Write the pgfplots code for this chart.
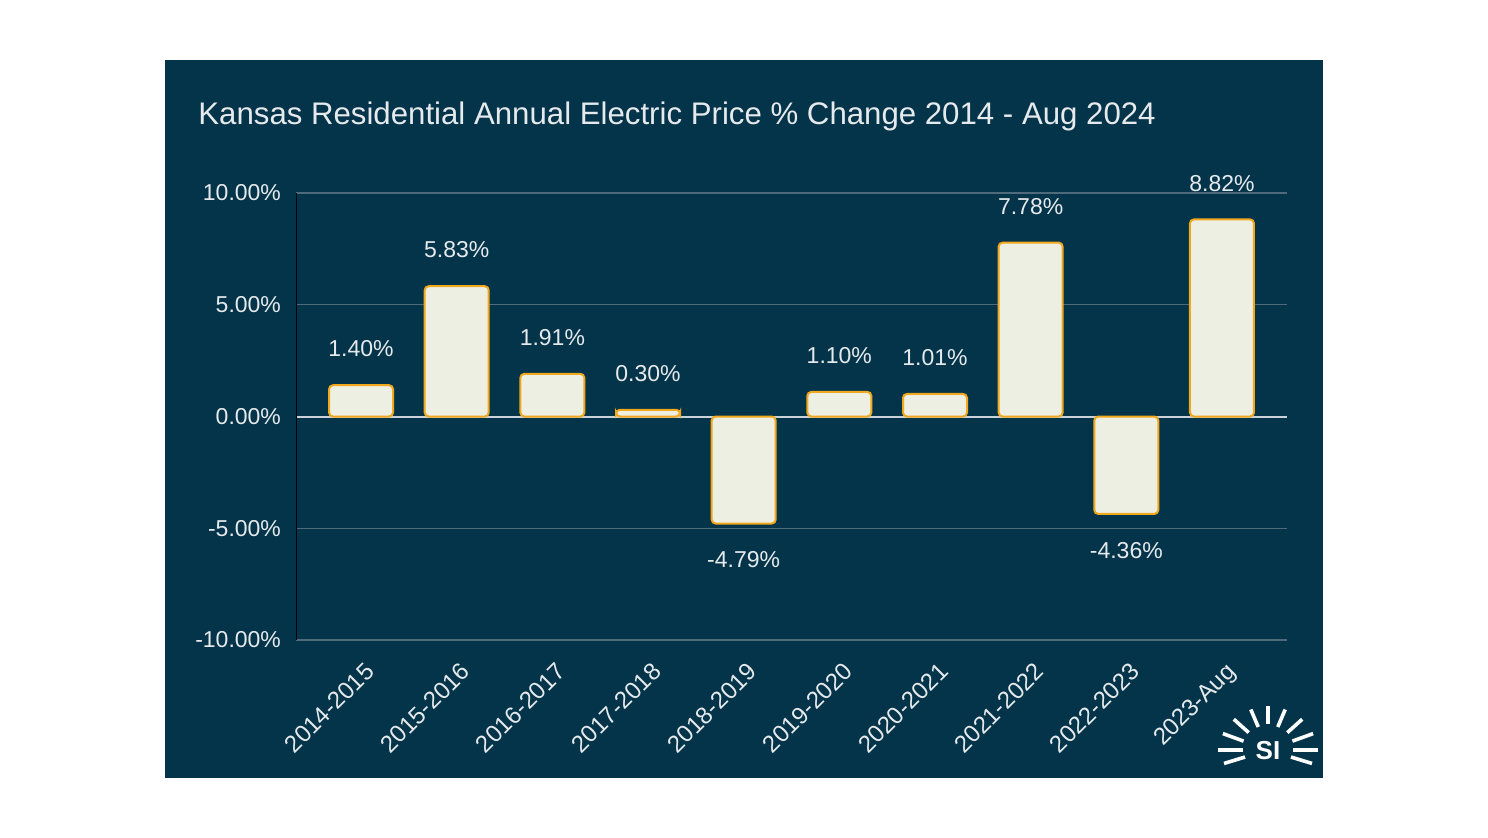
\documentclass[border=0pt]{standalone}
\usepackage{pgfplots}
\pgfplotsset{compat=1.18}
\usepackage{fontspec}
\setmainfont{Liberation Sans}
\definecolor{bg}{HTML}{04344A}
\definecolor{barfill}{HTML}{EEEFE3}
\definecolor{barline}{HTML}{F2A81D}
\definecolor{txt}{HTML}{E6EAEC}
\definecolor{gridc}{HTML}{4F6B7B}
\definecolor{zeroc}{HTML}{C8D2D8}
\begin{document}
\begin{tikzpicture}
\begin{scope}[x=0.5pt,y=-0.5pt,yshift=418.5pt]
\fill[white] (0,0) rectangle (1488,837);
\fill[bg] (165,60) rectangle (1323,778);
\node[anchor=base west, text=txt, font=\fontsize{15.6}{19}\selectfont, inner sep=0] at (198,125) {Kansas Residential Annual Electric Price \% Change 2014 - Aug 2024};
% logo
\foreach \a/\ra/\rb in {-17/24/46, 0/25/50, 20/26/48, 42/26/46, 67/25/44, 90/26/44, 113/25/44, 138/26/46, 160/26/48, 180/25/50, 197/24/46}
  \draw[white, line width=1.8pt] ([shift={(-\a:\ra)}]1268,750) -- ([shift={(-\a:\rb)}]1268,750);
\node[text=white, font=\fontsize{13}{15}\selectfont\bfseries, inner sep=0] at (1268,751) {SI};
\end{scope}
\begin{axis}[
  at={(148pt,98.5pt)}, anchor=south west, scale only axis,
  width=495.5pt, height=223.5pt,
  ymin=-10, ymax=10, xmin=-0.68, xmax=9.68,
  ytick={-10,-5,0,5,10},
  xtick={0,...,9},
  xticklabels={2014-2015,2015-2016,2016-2017,2017-2018,2018-2019,2019-2020,2020-2021,2021-2022,2022-2023,2023-Aug},
  ybar, bar width=32pt,
  axis line style={draw=none},
  major tick length=0pt,
  ymajorgrids, grid style={gridc, line width=0.6pt},
  /pgf/number format/assume math mode=true,
  yticklabel={\pgfmathprintnumber[fixed,fixed zerofill,precision=2]{\tick}\%},
  yticklabel style={text=txt, font=\fontsize{11.5}{13}\selectfont, xshift=-4pt},
  xticklabel style={text=txt, font=\fontsize{12}{14}\selectfont, rotate=45, anchor=north east, xshift=-3pt, yshift=-5pt},
  nodes near coords={\pgfmathprintnumber[fixed,fixed zerofill,precision=2]{\pgfplotspointmeta}\%},
  every node near coord/.append style={text=txt, font=\fontsize{11.5}{13}\selectfont, inner ysep=13.5pt},
]
\draw[zeroc, line width=1pt] (axis cs:-0.68,0) -- (axis cs:9.68,0);
\draw[black, line width=1pt] (rel axis cs:0,0) -- (rel axis cs:0,1);
\addplot[fill=barfill, draw=barline, line width=1pt, rounded corners=2pt] coordinates {
(0,1.40) (1,5.83) (2,1.91) (3,0.30) (4,-4.79) (5,1.10) (6,1.01) (7,7.78) (8,-4.36) (9,8.82)};
\end{axis}
\end{tikzpicture}
\end{document}
